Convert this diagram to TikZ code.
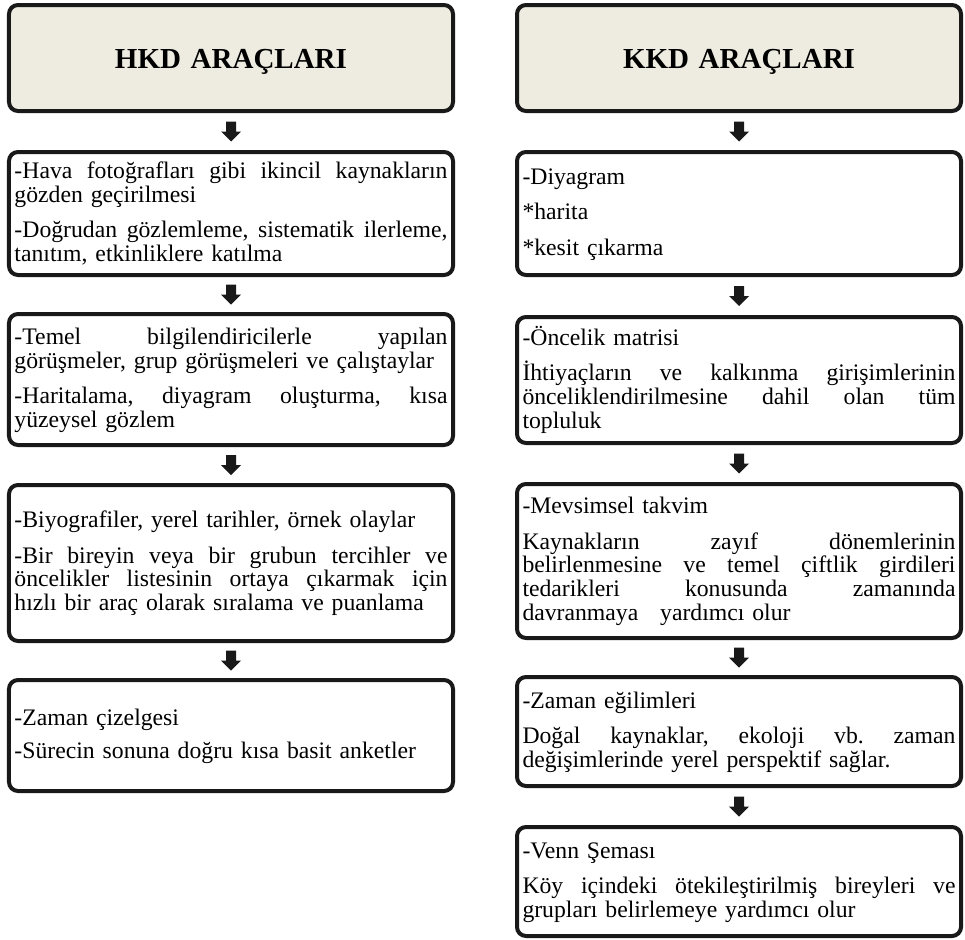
\documentclass[tikz,border=0pt]{standalone}
\usepackage{fontspec}
\setmainfont{Liberation Serif}
\usetikzlibrary{calc}
\definecolor{hdrfill}{RGB}{238,235,224}
\definecolor{edgec}{RGB}{25,25,25}
\newcommand\tw{433bp}
\newcommand\stt{\rule[-5bp]{0pt}{22.5bp}}
\newcommand\jl[1]{\makebox[\tw][s]{\spaceskip=0.25em plus 1fil\relax\xspaceskip=0.25em plus 1fil\relax\stt #1}}
\newcommand\pl[1]{\stt #1}
\newcommand\bodyfont{\fontsize{23.7bp}{23.8bp}\selectfont\frenchspacing\lineskiplimit=-100pt\relax}
\newcommand\hdrfont{\fontsize{29bp}{32bp}\selectfont\bfseries}
\newcommand\pgap{11.5bp}
\newcommand\barrow[2]{\fill[edgec] ($(#1.south)!0.5!(#2.north)$) ++(-5,-10) -- ++(10,0) -- ++(0,10) -- ++(5,0) -- ++(-10,10) -- ++(-10,-10) -- ++(5,0) -- cycle;}
\tikzset{
  box/.style={draw=edgec, line width=4bp, rounded corners=9bp, minimum width=444bp,
    text width=433bp, inner xsep=5.5bp, inner ysep=1bp, align=left, font=\bodyfont, fill=white},
  hdr/.style={box, fill=hdrfill, align=center, font=\hdrfont, text height=20bp, text depth=0bp}
}
\begin{document}
\begin{tikzpicture}[x=1bp,y=-1bp]
\useasboundingbox (0,0) rectangle (965,940);
% left column
\node[hdr, minimum height=106bp] (h1) at (231,58) {HKD ARAÇLARI};
\node[box, minimum height=123bp] (l1) at (231,213.5) {%
\jl{-Hava fotoğrafları gibi ikincil kaynakların}\\
\pl{gözden geçirilmesi}\\[\pgap]
\jl{-Doğrudan gözlemleme, sistematik ilerleme,}\\
\pl{tanıtım, etkinliklere katılma}};
\node[box, minimum height=131bp] (l2) at (231,379.5) {%
\jl{-Temel bilgilendiricilerle yapılan}\\
\pl{görüşmeler, grup görüşmeleri ve çalıştaylar}\\[\pgap]
\jl{-Haritalama, diyagram oluşturma, kısa}\\
\pl{yüzeysel gözlem}};
\node[box, minimum height=156bp] (l3) at (231,563) {%
\pl{-Biyografiler, yerel tarihler, örnek olaylar}\\[\pgap]
\jl{-Bir bireyin veya bir grubun tercihler ve}\\
\jl{öncelikler listesinin ortaya çıkarmak için}\\
\pl{hızlı bir araç olarak sıralama ve puanlama}};
\node[box, minimum height=111bp] (l4) at (231,735.5) {%
\pl{-Zaman çizelgesi}\\[9.5bp]
\pl{-Sürecin sonuna doğru kısa basit anketler}};
% right column
\node[hdr, minimum height=106bp] (h2) at (739,58) {KKD ARAÇLARI};
\node[box, minimum height=123bp] (r1) at (739,213.5) {%
\pl{-Diyagram}\\[\pgap]
\pl{*harita}\\[\pgap]
\pl{*kesit çıkarma}};
\node[box, minimum height=126bp] (r2) at (739,380) {%
\pl{-Öncelik matrisi}\\[\pgap]
\jl{İhtiyaçların ve kalkınma girişimlerinin}\\
\jl{önceliklendirilmesine dahil olan tüm}\\
\pl{topluluk}};
\node[box, minimum height=154bp] (r3) at (739,561) {%
\pl{-Mevsimsel takvim}\\[\pgap]
\jl{Kaynakların zayıf dönemlerinin}\\
\jl{belirlenmesine ve temel çiftlik girdileri}\\
\jl{tedarikleri konusunda zamanında}\\
\pl{davranmaya\hspace{14bp} yardımcı olur}};
\node[box, minimum height=109bp] (r4) at (739,731.5) {%
\pl{-Zaman eğilimleri}\\[\pgap]
\jl{Doğal kaynaklar, ekoloji vb. zaman}\\
\pl{değişimlerinde yerel perspektif sağlar.}};
\node[box, minimum height=109bp] (r5) at (739,881.5) {%
\pl{-Venn Şeması}\\[\pgap]
\jl{Köy içindeki ötekileştirilmiş bireyleri ve}\\
\pl{grupları belirlemeye yardımcı olur}};
% arrows
\barrow{h1}{l1}
\barrow{l1}{l2}
\barrow{l2}{l3}
\barrow{l3}{l4}
\barrow{h2}{r1}
\barrow{r1}{r2}
\barrow{r2}{r3}
\barrow{r3}{r4}
\barrow{r4}{r5}
\end{tikzpicture}
\end{document}
